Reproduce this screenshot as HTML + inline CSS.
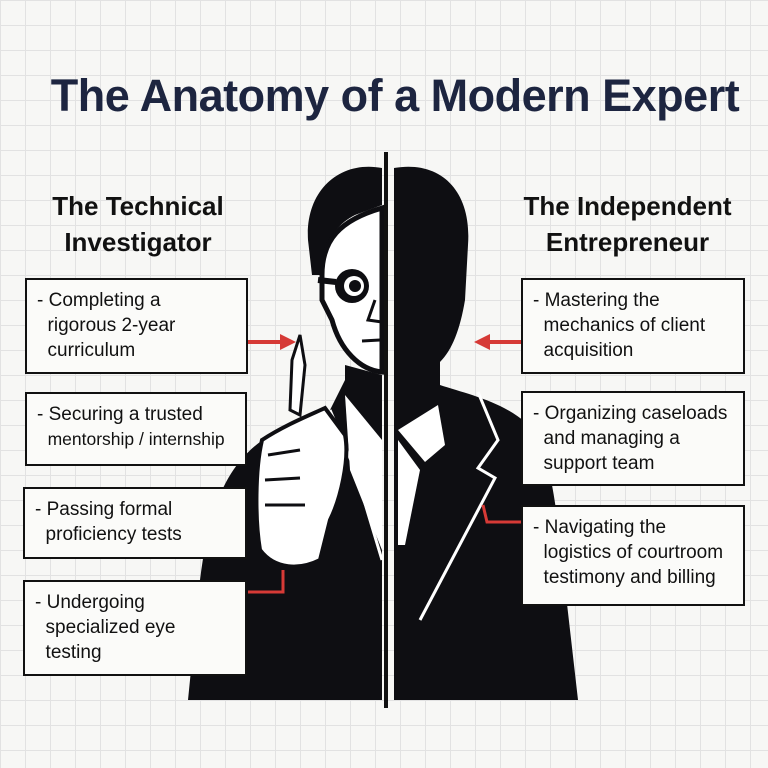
<!DOCTYPE html>
<html><head><meta charset="utf-8"><style>
html,body{margin:0;padding:0}
body{width:768px;height:768px;position:relative;overflow:hidden;background-color:#f7f7f5;
background-image:linear-gradient(#e2e2e2 1px,transparent 1px),linear-gradient(90deg,#e2e2e2 1px,transparent 1px);background-size:25px 25px;font-family:"Liberation Sans",sans-serif}
.t{position:absolute;left:0;width:790px;top:70px;text-align:center;font-size:45px;font-weight:bold;color:#1d2540;letter-spacing:-0.5px}
.h{position:absolute;font-size:26px;font-weight:bold;color:#111;text-align:center;line-height:36px}
.b{position:absolute;border:2px solid #111;background:#fbfbf9;box-sizing:border-box;padding:8px 8px 0 10px;font-size:19px;line-height:25px;color:#111}
svg{position:absolute;left:0;top:0}
</style></head><body>
<svg width="768" height="768">
<path d="M394,168 C440,160 472,190 468,245 L465,300 C460,330 452,350 440,362 L440,385 C470,395 520,405 540,440 C552,470 558,520 562,560 L578,700 L394,700 Z" fill="#0e0e12"/>
<path d="M398,430 L425,462 L445,445 L438,405 Z" fill="#fff"/>
<path d="M398,440 L420,470 L405,545 L398,545 Z" fill="#fff"/>
<polyline points="478,392 498,440 478,468 495,478 420,620" fill="none" stroke="#fff" stroke-width="3"/>
<path d="M382,700 L188,700 L200,580 C210,500 230,450 290,425 L330,410 L345,380 L382,378 Z" fill="#0e0e12"/>
<path d="M345,395 L382,440 L382,550 L350,470 Z" fill="#fff"/>
<path d="M330,410 L355,470 L382,560" fill="none" stroke="#fff" stroke-width="3"/>
<path d="M382,168 C340,160 305,190 308,240 L312,275 L322,275 C322,245 335,225 355,215 L382,205 Z" fill="#0e0e12"/>
<path d="M322,275 C322,240 340,220 382,208 L382,372 C360,370 340,350 332,320 L322,300 Z" fill="#fff" stroke="#0e0e12" stroke-width="5"/>
<circle cx="352" cy="286" r="17" fill="#0e0e12"/><circle cx="354" cy="286" r="10" fill="#fff"/><circle cx="355" cy="286" r="6" fill="#0e0e12"/>
<path d="M318,280 L336,282" stroke="#0e0e12" stroke-width="6"/>
<path d="M375,300 L368,320 L382,322 M362,341 L380,340" stroke="#0e0e12" stroke-width="3" fill="none"/>
<path d="M345,365 L382,375 L382,385 L345,385 Z" fill="#0e0e12"/>
<path d="M262,440 C285,425 310,415 325,408 L345,435 C350,460 340,500 330,520 L320,560 C300,570 275,570 260,550 C255,520 255,470 262,440 Z" fill="#fff" stroke="#0e0e12" stroke-width="4"/>
<path d="M268,455 L300,450 M265,480 L300,478 M265,505 L305,505" stroke="#0e0e12" stroke-width="3"/>
<path d="M292,360 L300,335 L305,365 L300,415 L290,410 Z" fill="#fff" stroke="#0e0e12" stroke-width="3"/>
<rect x="384" y="152" width="4" height="556" fill="#111"/>
<path d="M248,342 L283,342" stroke="#d63a36" stroke-width="4"/><path d="M280,334 L296,342 L280,350 Z" fill="#d63a36"/>
<path d="M521,342 L488,342" stroke="#d63a36" stroke-width="4"/><path d="M490,334 L474,342 L490,350 Z" fill="#d63a36"/>
<path d="M248,592 L283,592 L283,570" stroke="#d63a36" stroke-width="3" fill="none"/>
<path d="M521,522 L487,522 L483,505" stroke="#d63a36" stroke-width="3" fill="none"/>
</svg>
<div class="t">The Anatomy of a Modern Expert</div>
<div class="h" style="left:18px;width:240px;top:188px">The Technical<br>Investigator</div>
<div class="h" style="left:505px;width:245px;top:188px">The Independent<br>Entrepreneur</div>
<div class="b" style="left:25px;top:278px;width:223px;height:96px">- Completing a<br>&nbsp;&nbsp;rigorous 2-year<br>&nbsp;&nbsp;curriculum</div>
<div class="b" style="left:25px;top:392px;width:222px;height:74px">- Securing a trusted<br>&nbsp;&nbsp;<span style="font-size:17.5px">mentorship / internship</span></div>
<div class="b" style="left:23px;top:487px;width:224px;height:72px">- Passing formal<br>&nbsp;&nbsp;proficiency tests</div>
<div class="b" style="left:23px;top:580px;width:224px;height:96px">- Undergoing<br>&nbsp;&nbsp;specialized eye<br>&nbsp;&nbsp;testing</div>
<div class="b" style="left:521px;top:278px;width:224px;height:96px">- Mastering the<br>&nbsp;&nbsp;mechanics of client<br>&nbsp;&nbsp;acquisition</div>
<div class="b" style="left:521px;top:391px;width:224px;height:95px">- Organizing caseloads<br>&nbsp;&nbsp;and managing a<br>&nbsp;&nbsp;support team</div>
<div class="b" style="left:521px;top:505px;width:224px;height:101px">- Navigating the<br>&nbsp;&nbsp;logistics of courtroom<br>&nbsp;&nbsp;testimony and billing</div>
</body></html>
